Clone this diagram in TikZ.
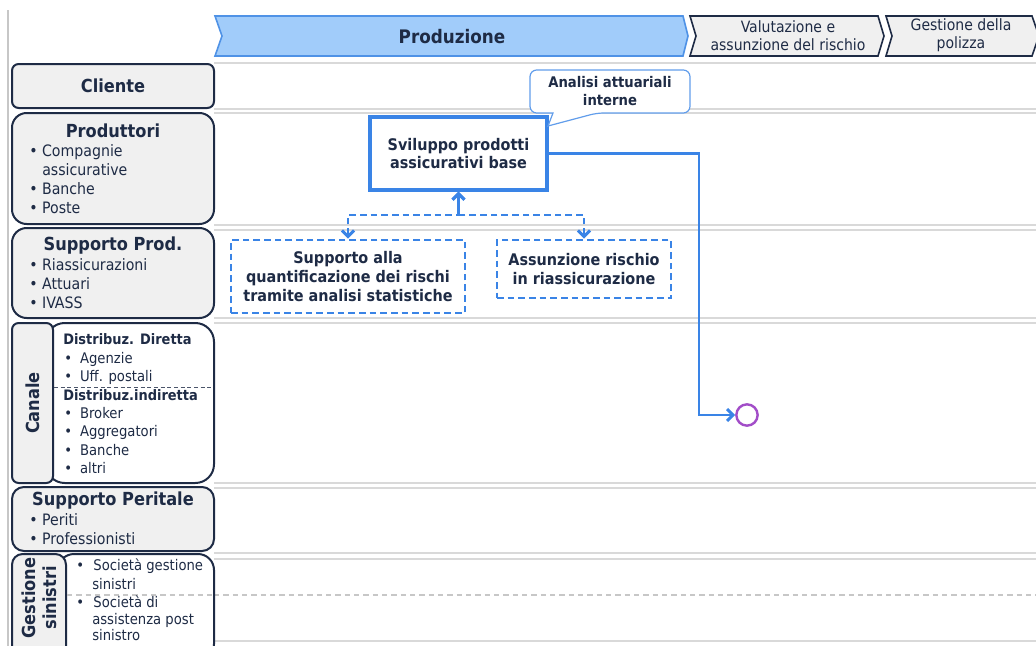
\documentclass[tikz,border=0pt]{standalone}
\usepackage{fontspec}
\setmainfont{DejaVu Sans Condensed}
\usetikzlibrary{arrows.meta,calc}
\definecolor{navy}{HTML}{1E2B45}
\definecolor{boxgray}{HTML}{F0F0F0}
\definecolor{lanegray}{HTML}{D9D9D9}
\definecolor{flowblue}{HTML}{3A84E6}
\definecolor{headblue}{HTML}{A1CCFA}
\definecolor{headedge}{HTML}{4F92E6}
\definecolor{endpurple}{HTML}{A24DC8}
\tikzset{
  lanehead/.style={draw=navy,line width=1.5pt,fill=boxgray},
  lanebody/.style={draw=navy,line width=1.5pt,fill=white},
  laneline/.style={draw=lanegray,line width=1.5pt},
  ttl/.style={font=\fontsize{13.5}{16}\selectfont\bfseries},
  subttl/.style={font=\fontsize{10.8}{13}\selectfont\bfseries,anchor=mid west},
  itm/.style={font=\fontsize{11.8}{14}\selectfont,anchor=mid west},
  sitm/.style={font=\fontsize{11}{14}\selectfont,anchor=mid west},
  proc/.style={draw=flowblue,line width=2.5pt,fill=white,align=center,
    font=\fontsize{12}{13.9}\selectfont\bfseries},
  dproc/.style={proc,line width=2.2pt,dash pattern=on 5pt off 3pt},
  barb/.tip={Straight Barb[length=4.5pt,width=9pt,line width=2.2pt]},
  flow/.style={draw=flowblue,line width=2.2pt,-barb},
  dflow/.style={draw=flowblue,line width=2.2pt,dash pattern=on 5pt off 3pt,barb-barb},
  phase/.style={draw=navy,line width=1.2pt,fill=boxgray},
}
\begin{document}
\begin{tikzpicture}[x=0.75pt,y=-0.75pt,every node/.style={text=navy,inner sep=0pt}]
\useasboundingbox (0,0) rectangle (1036,646);
\begin{scope}
\clip (0,0) rectangle (1036,646);

% left margin rule
\draw[lanegray!80!gray,line width=0.8pt] (8,10) -- (8,646);

% phase chevrons
\draw[draw=headedge,line width=1.2pt,fill=headblue]
  (215,16) -- (683,16) -- (688,36) -- (683,56) -- (215,56) -- (222,36) -- cycle;
\node[ttl,font=\fontsize{14}{16}\selectfont\bfseries] (ph1) at (452,37) {Produzione};
\draw[phase] (690,16) -- (878,16) -- (884,36) -- (878,56) -- (690,56) -- (696,36) -- cycle;
\node[font=\fontsize{11.7}{13.7}\selectfont,align=center] (ph2) at (788,36) {Valutazione e\\assunzione del rischio};
\draw[phase] (886,16) -- (1032,16) -- (1039,36) -- (1032,56) -- (886,56) -- (892,36) -- cycle;
\node[font=\fontsize{11.7}{13.7}\selectfont,align=center] (ph3) at (961,35) {Gestione della\\polizza};

% lane rules
\foreach \t/\b in {63/109,113/225,230/318,323/483,488/553,559/641}{
  \draw[laneline] (214,\t) -- (1036,\t);
  \draw[laneline] (214,\b) -- (1036,\b);
}
\draw[lanegray!80!gray,line width=0.8pt,dash pattern=on 4pt off 3pt] (214,595) -- (1036,595);

% lane headers
\draw[lanehead,rounded corners=5pt] (12,64) rectangle (214,108);
\node[ttl] (cli) at (113,86) {Cliente};

\draw[lanehead,rounded corners=11pt] (12,113) rectangle (214,224);
\node[ttl] (prd) at (113,131) {Produttori};
\node[itm] (prd1) at (29,153) {• Compagnie};
\node[itm] (prd2) at (42,172) {assicurative};
\node[itm] (prd3) at (29,191) {• Banche};
\node[itm] (prd4) at (29,210) {• Poste};

\draw[lanehead,rounded corners=11pt] (12,228) rectangle (214,318);
\node[ttl] (spr) at (113,246) {Supporto Prod.};
\node[itm] (spr1) at (29,267) {• Riassicurazioni};
\node[itm] (spr2) at (29,286) {• Attuari};
\node[itm] (spr3) at (29,305) {• IVASS};

\draw[lanebody,rounded corners=14pt] (46,323) rectangle (214,483);
\draw[lanehead,rounded corners=5pt] (12,323) rectangle (53,483);
\node[ttl,rotate=90] (can) at (33,403) {Canale};
\node[subttl] (dd) at (63,341) {Distribuz. Diretta};
\node[sitm] (dd1) at (64,360) {•\hspace{6pt}Agenzie};
\node[sitm] (dd2) at (64,378) {•\hspace{6pt}Uff. postali};
\draw[navy!80,line width=0.7pt,dash pattern=on 3pt off 2pt] (54,387) -- (213,387);
\node[subttl] (di) at (63,397) {Distribuz.indiretta};
\node[sitm] (di1) at (64,415) {•\hspace{6pt}Broker};
\node[sitm] (di2) at (64,433) {•\hspace{6pt}Aggregatori};
\node[sitm] (di3) at (64,452) {•\hspace{6pt}Banche};
\node[sitm] (di4) at (64,470) {•\hspace{6pt}altri};

\draw[lanehead,rounded corners=9pt] (12,487) rectangle (214,551);
\node[ttl] (spe) at (113,501) {Supporto Peritale};
\node[itm] (spe1) at (29,522) {• Periti};
\node[itm] (spe2) at (29,541) {• Professionisti};

\draw[lanebody,rounded corners=12pt] (58,554) rectangle (214,660);
\draw[lanehead,rounded corners=8pt] (12,554) rectangle (66,660);
\node[ttl,rotate=90,align=center,font=\fontsize{13.5}{15.5}\selectfont\bfseries] (ges) at (39,598) {Gestione\\sinistri};
\draw[lanegray!80!gray,line width=0.8pt,dash pattern=on 4pt off 3pt] (67,595) -- (213,595);
\node[sitm] (ges1) at (76,567) {•\hspace{7pt}Società gestione};
\node[sitm] (ges2) at (92,586) {sinistri};
\node[sitm] (ges3) at (76,604) {•\hspace{7pt}Società di};
\node[sitm] (ges4) at (92,621) {assistenza post};
\node[sitm] (ges5) at (92,637) {sinistro};

% process activities
\node[proc,minimum width=132.75pt,minimum height=54.75pt] (svil) at (458.5,153.5)
  {Sviluppo prodotti\\assicurativi base};
\node[dproc,minimum width=175.5pt,minimum height=54.75pt] (quant) at (348,276.5)
  {Supporto alla\\quantificazione dei rischi\\tramite analisi statistiche};
\node[dproc,minimum width=130.5pt,minimum height=43.5pt] (riass) at (584,269)
  {Assunzione rischio\\in riassicurazione};

% annotation callout
\draw[draw=flowblue!80,line width=0.9pt,fill=white,rounded corners=5pt]
  (553,113) -- (530,113) -- (530,70) -- (690,70) -- (690,113) -- (597,113)
  [sharp corners] -- (548,126) -- (553,113) -- cycle;
\node[align=center,font=\fontsize{11}{13.5}\selectfont\bfseries] (note) at (610,91)
  {Analisi attuariali\\interne};

% end event
\node[circle,draw=endpurple,line width=1.8pt,fill=white,minimum size=16pt] (fine) at (747,415) {};

% connectors
\coordinate (junc) at (458.5,215);
\coordinate (bend) at (699,153.5);
\draw[dflow] (quant.north) -- (quant.north |- junc) -- (junc) -- (svil.south);
\draw[dflow] (riass.north) -- (riass.north |- junc) -- (junc) -- (svil.south);
\draw[flow] (svil.east) -- (bend) |- (fine.west);
\end{scope}
\end{tikzpicture}
\end{document}
